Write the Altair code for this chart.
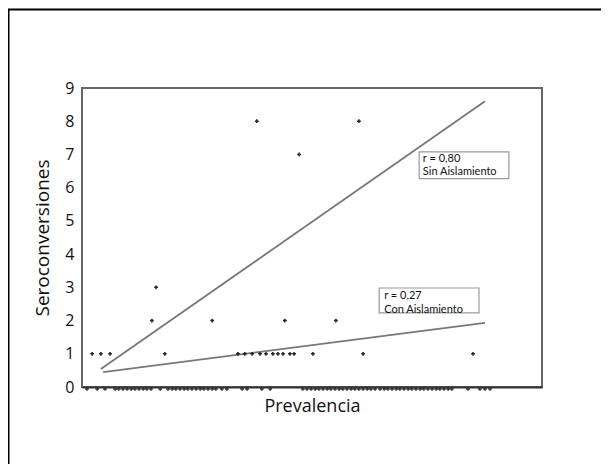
import altair as alt
import pandas as pd

# x positions (prevalence, arbitrary 0-100 scale) of observed points, grouped by seroconversions
zero_x = [1.1, 3.3, 5.0, 7.2, 8.0, 8.9, 9.8, 10.7, 11.5, 12.4, 13.3, 14.1, 15.0, 17.0,
          18.7, 19.6, 20.4, 21.3, 22.2, 23.0, 23.9, 24.8, 25.7, 26.5, 27.4, 28.3, 29.1,
          30.4, 31.5, 34.8, 35.9, 39.1, 40.9, 48.0, 48.9, 49.8, 50.7, 51.5, 52.4, 53.3,
          54.1, 55.0, 55.9, 56.7, 57.6, 58.5, 59.3, 60.2, 61.1, 62.0, 62.8, 63.7, 64.8,
          65.7, 66.5, 67.4, 68.3, 69.1, 70.0, 70.9, 71.7, 72.6, 73.5, 74.3, 75.2, 76.1,
          77.0, 77.8, 78.7, 79.6, 80.4, 83.9, 86.5, 87.6, 88.7]
one_x = [2.2, 4.1, 6.1, 18.0, 33.9, 35.4, 37.0, 38.7, 40.0, 41.5, 42.6, 43.7, 45.2,
         46.1, 50.2, 61.1, 85.0]
two_x = [15.2, 28.3, 44.1, 55.2]
three_x = [16.1]
seven_x = [47.2]
eight_x = [38.0, 60.2]

# regression lines
sin_x = [4.1, 87.6]
sin_y = [0.54, 8.6]
con_x = [4.6, 87.6]
con_y = [0.45, 1.93]

# annotation boxes
box_x = [73.3, 64.6]
box_x2 = [92.8, 86.3]
box_y = [7.08, 2.98]
box_y2 = [6.27, 2.23]
lab_x = [74.1, 74.1, 65.7, 65.7]
lab_y = [6.86, 6.46, 2.74, 2.33]
lab_text = ["r = 0,80", "Sin Aislamiento", "r = 0,27", "Con Aislamiento"]

y_ticks = [0, 1, 2, 3, 4, 5, 6, 7, 8, 9]

FONT = "Open Sans"
ANN_FONT = "Lato"

pts = pd.DataFrame({
    "prev": one_x + two_x + three_x + seven_x + eight_x,
    "sero": [1] * len(one_x) + [2] * len(two_x) + [3] * len(three_x)
            + [7] * len(seven_x) + [8] * len(eight_x),
})
zeros = pd.DataFrame({"prev": zero_x, "sero": [0] * len(zero_x)})
lines = pd.DataFrame({
    "prev": sin_x + con_x,
    "sero": sin_y + con_y,
    "grupo": ["Sin", "Sin", "Con", "Con"],
})
boxes = pd.DataFrame({"x": box_x, "x2": box_x2, "y": box_y, "y2": box_y2})
labels = pd.DataFrame({"x": lab_x, "y": lab_y, "t": lab_text})

xs = alt.Scale(domain=[0, 100], nice=False, zero=False)
ys = alt.Scale(domain=[0, 9], nice=False)

xenc = alt.X("prev:Q", scale=xs,
             axis=alt.Axis(title="Prevalencia", labels=False, ticks=False, grid=False,
                           domain=True, domainColor="#333", domainWidth=2,
                           titleFont=FONT, titleFontSize=18, titleFontWeight="normal",
                           titleColor="#111", titlePadding=10))
yenc = alt.Y("sero:Q", scale=ys,
             axis=alt.Axis(title="Seroconversiones", values=y_ticks, tickCount=10,
                           labelOverlap=False, ticks=False, grid=False,
                           domain=False, labelFont=FONT, labelFontSize=16, labelColor="#111",
                           labelPadding=8, titleFont=FONT, titleFontSize=19,
                           titleFontWeight="normal", titleColor="#111", titlePadding=12))

line_layer = alt.Chart(lines).mark_line(color="#777", strokeWidth=1.8).encode(
    x=xenc, y=yenc, detail="grupo:N")

pt_layer = alt.Chart(pts).mark_point(shape="cross", filled=True, color="#222",
                                     size=14, opacity=1).encode(
    x=alt.X("prev:Q", scale=xs), y=alt.Y("sero:Q", scale=ys))

zero_layer = alt.Chart(zeros).mark_point(shape="cross", filled=True, color="#333",
                                         size=14, opacity=1, yOffset=2).encode(
    x=alt.X("prev:Q", scale=xs), y=alt.Y("sero:Q", scale=ys))

box_layer = alt.Chart(boxes).mark_rect(fill="white", stroke="#999", strokeWidth=1.2).encode(
    x=alt.X("x:Q", scale=xs), x2="x2:Q", y=alt.Y("y:Q", scale=ys), y2="y2:Q")

text_layer = alt.Chart(labels).mark_text(font=ANN_FONT, fontSize=11, align="left",
                                         baseline="middle", color="#111").encode(
    x=alt.X("x:Q", scale=xs), y=alt.Y("y:Q", scale=ys), text="t:N")

frame = pd.DataFrame({"k": [0]})
frame_left = alt.Chart(frame).mark_rule(color="#000", strokeWidth=2).encode(
    x=alt.value(-73.5), y=alt.value(-79), y2=alt.value(420))
frame_top = alt.Chart(frame).mark_rule(color="#000", strokeWidth=2).encode(
    y=alt.value(-78.5), x=alt.value(-74), x2=alt.value(560))

chart = alt.layer(
    line_layer, zero_layer, pt_layer, box_layer, text_layer, frame_left, frame_top
).properties(
    width=460, height=299,
    autosize=alt.AutoSizeParams(type="none"),
    padding={"left": 74, "top": 80, "right": 59, "bottom": 77},
    background="white",
).configure_view(stroke="#666", strokeWidth=2)

chart.save("out.html", embed_options={"renderer": "svg", "actions": False})
